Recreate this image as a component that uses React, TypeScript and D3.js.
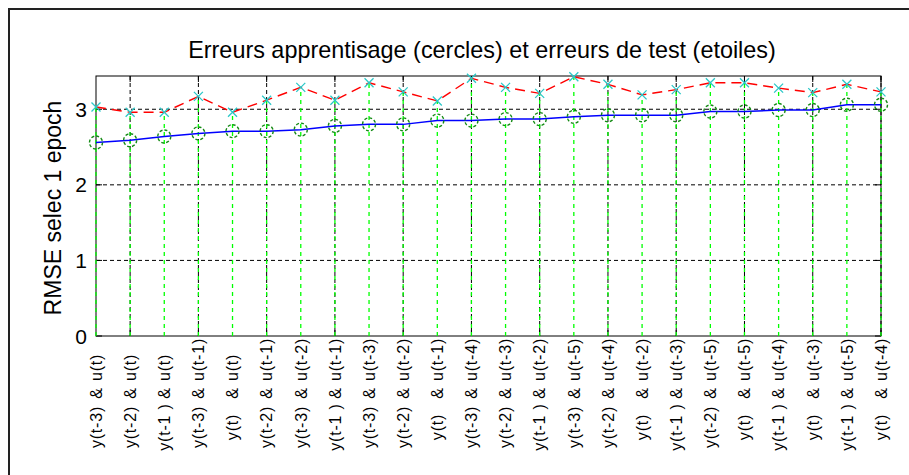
// src/App.tsx

import React, { useEffect, useRef } from 'react';
import * as d3 from 'd3';

// input combinations (y part, u part)
const yParts = [
  'y(t-3)', 'y(t-2)', 'y(t-1 )', 'y(t-3)', 'y(t)', 'y(t-2)', 'y(t-3)', 'y(t-1 )',
  'y(t-3)', 'y(t-2)', 'y(t)', 'y(t-3)', 'y(t-2)', 'y(t-1 )', 'y(t-3)', 'y(t-2)',
  'y(t)', 'y(t-1 )', 'y(t-2)', 'y(t)', 'y(t-1 )', 'y(t)', 'y(t-1 )', 'y(t)',
];
const uParts = [
  'u(t)', 'u(t)', 'u(t)', 'u(t-1)', 'u(t)', 'u(t-1)', 'u(t-2)', 'u(t-1)',
  'u(t-3)', 'u(t-2)', 'u(t-1)', 'u(t-4)', 'u(t-3)', 'u(t-2)', 'u(t-5)', 'u(t-4)',
  'u(t-2)', 'u(t-3)', 'u(t-5)', 'u(t-5)', 'u(t-4)', 'u(t-3)', 'u(t-5)', 'u(t-4)',
];

// training errors (circles)
const trainErr = [
  2.56, 2.59, 2.64, 2.68, 2.71, 2.71, 2.73, 2.78, 2.80, 2.80, 2.85, 2.85,
  2.87, 2.87, 2.90, 2.92, 2.92, 2.92, 2.97, 2.97, 2.99, 2.99, 3.06, 3.06,
];
// test errors (stars)
const testErr = [
  3.03, 2.96, 2.96, 3.17, 2.96, 3.12, 3.29, 3.12, 3.35, 3.23, 3.11, 3.41,
  3.29, 3.21, 3.43, 3.33, 3.19, 3.26, 3.35, 3.35, 3.28, 3.22, 3.33, 3.23,
];

const yTicks = [0, 1, 2, 3];
const xGridIdx = [2, 4, 6, 8, 10, 12, 14, 16, 18, 20, 22, 24];

const ErrorChart: React.FC = () => {
  const svgRef = useRef<SVGSVGElement>(null);

  useEffect(() => {
    const width = 909;
    const height = 475;
    const left = 96, right = 881, top = 76, bottom = 336;
    const font = 'Arial, "Liberation Sans", sans-serif';

    const svg = d3.select(svgRef.current)
      .attr('width', width)
      .attr('height', height);
    svg.selectAll('*').remove();

    const idx = trainErr.map((_, i) => i + 1);

    const x = d3.scaleLinear().domain([1, 24]).range([left, right]);
    const y = d3.scaleLinear().domain([0, 3.44]).range([bottom, top]);

    // figure frame
    svg.append('path')
      .attr('d', `M9,${height} V9 H${width}`)
      .attr('fill', 'none')
      .attr('stroke', '#222')
      .attr('stroke-width', 2);

    // grid
    const grid = svg.append('g').attr('stroke', '#000').attr('stroke-dasharray', '4,3');
    grid.selectAll('line.h')
      .data(yTicks.filter(t => t > 0))
      .enter()
      .append('line')
      .attr('x1', left).attr('x2', right)
      .attr('y1', d => y(d)).attr('y2', d => y(d));
    grid.selectAll('line.v')
      .data(xGridIdx)
      .enter()
      .append('line')
      .attr('x1', d => x(d)).attr('x2', d => x(d))
      .attr('y1', top).attr('y2', bottom);

    // axes box
    svg.append('rect')
      .attr('x', left).attr('y', top)
      .attr('width', right - left).attr('height', bottom - top)
      .attr('fill', 'none').attr('stroke', '#000');

    // ticks
    const ticks = svg.append('g').attr('stroke', '#000');
    yTicks.forEach(t => {
      ticks.append('line').attr('x1', left).attr('x2', left + 6).attr('y1', y(t)).attr('y2', y(t));
      ticks.append('line').attr('x1', right).attr('x2', right - 6).attr('y1', y(t)).attr('y2', y(t));
    });
    xGridIdx.forEach(t => {
      ticks.append('line').attr('x1', x(t)).attr('x2', x(t)).attr('y1', bottom).attr('y2', bottom - 6);
      ticks.append('line').attr('x1', x(t)).attr('x2', x(t)).attr('y1', top).attr('y2', top + 6);
    });

    // stems
    svg.append('g')
      .selectAll('line')
      .data(idx)
      .enter()
      .append('line')
      .attr('x1', d => x(d)).attr('x2', d => x(d))
      .attr('y1', y(0)).attr('y2', d => y(testErr[d - 1]))
      .attr('stroke', '#00ff00')
      .attr('stroke-width', 1.3)
      .attr('stroke-dasharray', '4,4');

    // training curve
    const line = d3.line<number>().x(d => x(d)).y((d, i) => y(trainErr[i]));
    svg.append('path')
      .attr('d', line(idx))
      .attr('fill', 'none')
      .attr('stroke', '#0000ff')
      .attr('stroke-width', 1.5);

    // test curve
    const tline = d3.line<number>().x(d => x(d)).y((d, i) => y(testErr[i]));
    svg.append('path')
      .attr('d', tline(idx))
      .attr('fill', 'none')
      .attr('stroke', '#ff0000')
      .attr('stroke-width', 1.4)
      .attr('stroke-dasharray', '10,6');

    // circles
    svg.append('g')
      .selectAll('circle')
      .data(idx)
      .enter()
      .append('circle')
      .attr('cx', d => x(d))
      .attr('cy', d => y(trainErr[d - 1]))
      .attr('r', 6.5)
      .attr('fill', 'none')
      .attr('stroke', '#138a13')
      .attr('stroke-width', 1.4)
      .attr('stroke-dasharray', '3,2');

    // stars (x markers)
    const s = 4.5;
    svg.append('g')
      .selectAll('path')
      .data(idx)
      .enter()
      .append('path')
      .attr('d', d => {
        const cx = x(d), cy = y(testErr[d - 1]);
        return `M${cx - s},${cy - s}L${cx + s},${cy + s}M${cx - s},${cy + s}L${cx + s},${cy - s}`;
      })
      .attr('stroke', '#2cc8c8')
      .attr('stroke-width', 1.3);

    // y tick labels
    svg.append('g')
      .selectAll('text')
      .data(yTicks)
      .enter()
      .append('text')
      .attr('x', 87)
      .attr('y', d => y(d))
      .attr('dy', '0.36em')
      .attr('text-anchor', 'end')
      .attr('font-family', font)
      .attr('font-size', 21)
      .text(d => d);

    // x tick labels (rotated)
    const lab = svg.append('g')
      .attr('font-family', font)
      .attr('font-size', 16)
      .attr('letter-spacing', 0.8)
      .selectAll('g')
      .data(idx)
      .enter()
      .append('g')
      .attr('transform', d => `translate(${x(d)},0) rotate(-90)`);
    lab.append('text')
      .attr('x', -427).attr('dy', '0.36em')
      .attr('text-anchor', 'middle')
      .text(d => yParts[d - 1]);
    lab.append('text')
      .attr('x', -393).attr('dy', '0.36em')
      .attr('text-anchor', 'middle')
      .text('&');
    lab.append('text')
      .attr('x', -381).attr('dy', '0.36em')
      .attr('text-anchor', 'start')
      .text(d => uParts[d - 1]);

    // y label
    svg.append('text')
      .attr('transform', 'translate(53,208) rotate(-90)')
      .attr('dy', '0.36em')
      .attr('text-anchor', 'middle')
      .attr('font-family', font)
      .attr('font-size', 23)
      .text('RMSE selec 1 epoch');

    // title
    svg.append('text')
      .attr('x', 482)
      .attr('y', 58)
      .attr('text-anchor', 'middle')
      .attr('font-family', font)
      .attr('font-size', 23.4)
      .text('Erreurs apprentisage (cercles) et erreurs de test (etoiles)');
  }, []);

  return (
    <svg ref={svgRef} style={{ position: 'absolute', left: 0, top: 0, background: '#fff' }}></svg>
  );
};

const App: React.FC = () => {
  return <ErrorChart />;
};

export default App;
